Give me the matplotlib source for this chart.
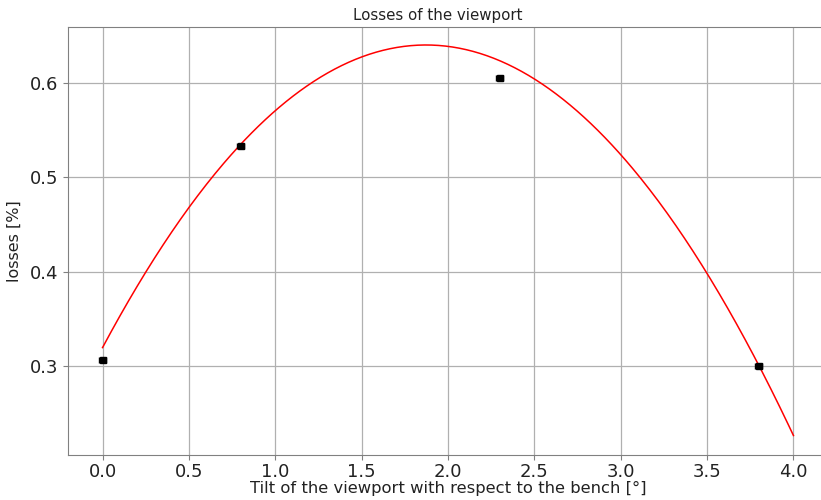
import numpy as np
import matplotlib
matplotlib.use("Agg")
import matplotlib.pyplot as plt

# measured points
tilt = [0.0, 0.8, 2.3, 3.8]
losses = [0.307, 0.533, 0.605, 0.300]
tilt_err = [0.02, 0.02, 0.02, 0.02]
losses_err = [0.002, 0.002, 0.002, 0.002]

# fitted parabola (coefficients), drawn over 0..4
fit_coeffs = [-0.09125, 0.34175, 0.320]
fit_range = [0.0, 4.0]

fig = plt.figure(figsize=(8.21, 5.0), dpi=100)
# axes runs a bit past the right edge, like the cropped original
ax = fig.add_axes([68 / 821, 45 / 500, 760 / 821, 428 / 500])

xs = np.linspace(fit_range[0], fit_range[1], 400)
ax.plot(xs, np.polyval(fit_coeffs, xs), color="red", lw=1.1)
ax.errorbar(tilt, losses, xerr=tilt_err, yerr=losses_err, fmt="s", color="black",
            markersize=4, capsize=2, elinewidth=1.2, zorder=3)

ax.set_xlim(-0.2, 4.2)
ax.set_ylim(0.2064, 0.659)
ax.set_xticks([0.0, 0.5, 1.0, 1.5, 2.0, 2.5, 3.0, 3.5, 4.0])
ax.set_yticks([0.3, 0.4, 0.5, 0.6])
ax.grid(True, color="#b0b0b0", lw=0.9)
ax.set_axisbelow(True)
for s in ax.spines.values():
    s.set_color("#808080")
ax.tick_params(labelsize=13, colors="#808080", labelcolor="#222222")
ax.tick_params(axis="x", pad=2)

ax.set_title("Losses of the viewport", fontsize=10.8, color="#222222", pad=5, x=0.486)
ax.set_xlabel("Tilt of the viewport with respect to the bench [°]", fontsize=11.8,
              color="#222222", labelpad=0)
ax.set_ylabel("losses [%]", fontsize=11.5, color="#222222", labelpad=6)

fig.savefig("out.png", dpi=100)
